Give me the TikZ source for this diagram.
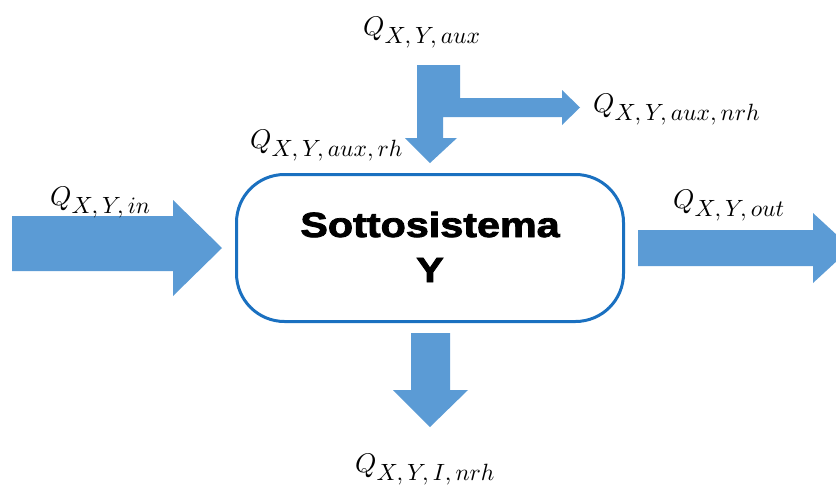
\documentclass[tikz,border=0pt]{standalone}
\usepackage{fontspec}
\DeclareFontShape{OML}{cmm}{m}{it}{<->cmmi10}{}
\newfontfamily\titlefont{Liberation Sans Bold}[FakeBold=2.2]
\definecolor{arrowblue}{HTML}{5B9BD5}
\definecolor{boxblue}{HTML}{1A70C0}
\newcommand{\qlab}[1]{{\fontsize{27}{30}\selectfont$Q$}\raisebox{-8pt}{\fontsize{23.5}{25}\selectfont$#1$}}
\tikzset{
  flow/.style={fill=arrowblue, draw=none},
  lbl/.style={inner sep=0pt, anchor=base west},
  titletxt/.style={inner sep=0pt, anchor=base, font=\titlefont\fontsize{35}{40}\selectfont},
  sysbox/.style={draw=boxblue, line width=3pt, rounded corners=48pt, minimum width=387pt, minimum height=147pt, inner sep=0pt}
}
\begin{document}
\begin{tikzpicture}[x=1pt, y=-1pt]
\useasboundingbox (0,0) rectangle (836,488);
\begin{scope}
\clip (0,0) rectangle (836,488);
% box
\node[sysbox] (box) at (430,248) {};
\node[titletxt] (t1) at (430,237) {\scalebox{1.18}[1]{Sottosistema}};
\node[titletxt] (t2) at (430,282) {\scalebox{1.18}[1]{Y}};
% left arrow
\path[flow] (12,216) -- (173,216) -- (173,200) -- (222,248) -- (173,296) -- (173,271) -- (12,271) -- cycle;
% right arrow
\path[flow] (638,230) -- (813,230) -- (813,213) -- (851,248) -- (813,283) -- (813,266) -- (638,266) -- cycle;
% top split arrow
\path[flow] (417,65) -- (460,65) -- (460,98) -- (562,98) -- (562,90) -- (580,107.5) -- (562,125) -- (562,117) -- (443,117) -- (443,138) -- (457,138) -- (430,163) -- (405,138) -- (417,138) -- cycle;
% bottom arrow
\path[flow] (411,333) -- (450,333) -- (450,390) -- (468,390) -- (430,427) -- (393,390) -- (411,390) -- cycle;
\end{scope}
% labels
\node[lbl] (laux) at (363,35) {\qlab{X,Y,aux}};
\node[lbl] (lnrh) at (593,112) {\qlab{X,Y,aux,nrh}};
\node[lbl] (lrh) at (250,148) {\qlab{X,Y,aux,rh}};
\node[lbl] (lin) at (50,205) {\qlab{X,Y,in}};
\node[lbl] (lout) at (673,208) {\qlab{X,Y,out}};
\node[lbl] (lI) at (355,472) {\qlab{X,Y,I,nrh}};
\end{tikzpicture}
\end{document}
